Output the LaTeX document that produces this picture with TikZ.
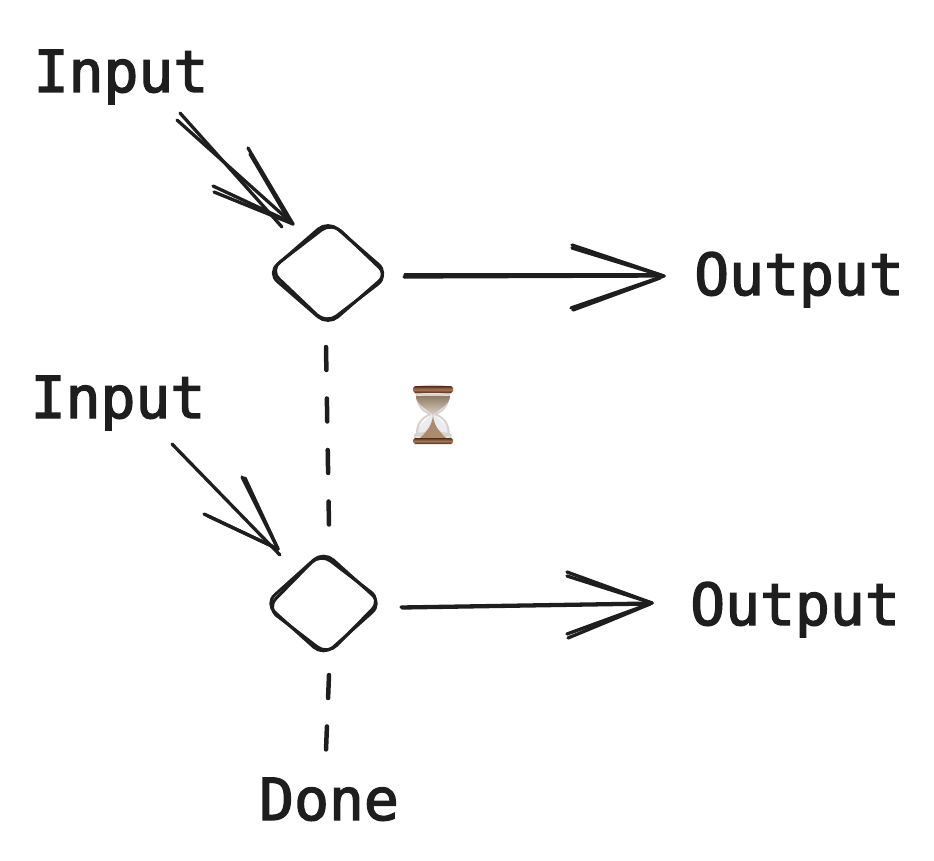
\documentclass[tikz,border=0pt]{standalone}
\usepackage{fontspec}
\setmonofont[FakeBold=2.4]{DejaVu Sans Mono}
\newfontfamily\emojifont{Noto Emoji}
\usetikzlibrary{shapes.geometric}
\definecolor{ink}{HTML}{1E1E1E}
\definecolor{wood}{HTML}{8A4A22}
\definecolor{sand}{HTML}{B39A80}
\definecolor{glass}{HTML}{ECECF0}
\definecolor{rim}{HTML}{D8D2CC}
\begin{document}
\begin{tikzpicture}[x=1pt,y=-1pt]
  \tikzstyle{label}=[text=ink,font=\ttfamily\fontsize{58}{58}\selectfont,anchor=base,inner sep=0pt]
  \tikzstyle{gate}=[draw=ink,line width=3pt,shape=diamond,rounded corners=13pt,inner sep=0pt]
  \tikzstyle{stroke}=[draw=ink,line width=3.3pt,line cap=round]
  \tikzstyle{gap}=[draw=ink,line width=4.5pt,line cap=round,dash pattern=on 23pt off 28.5pt]
  \useasboundingbox (0,0) rectangle (934,861);

  \node[label] (in1) at (121,92) {Input};
  \node[label] (in2) at (118,418) {Input};
  \node[label] (out1) at (799,295) {Output};
  \node[label] (out2) at (795,625) {Output};
  \node[label] (done) at (329,820) {Done};

  % hourglass
  \fill[glass] (416,394) -- (450,394) .. controls (451,405) and (440,410) .. (436,416) .. controls (442,422) and (451,428) .. (450,438) -- (416,438) .. controls (415,428) and (424,422) .. (430,416) .. controls (426,410) and (415,405) .. (416,394) -- cycle;
  \node[text=rim,font=\emojifont\fontsize{58}{58}\selectfont,inner sep=0pt] (wait) at (433,415) {⏳};
  \shade[top color=sand!80!black,bottom color=sand!45!white] (416,396) -- (450,396) .. controls (450,404) and (441,408) .. (433,415) .. controls (425,408) and (416,404) .. (416,396) -- cycle;
  \fill[sand!80!wood] (433,417) .. controls (435,428) and (441,433) .. (446,438) -- (420,438) .. controls (425,433) and (431,428) .. (433,417) -- cycle;
  \shade[top color=wood!60!black,bottom color=wood!60!black,middle color=wood!75!white] (413,388) -- (415,386) -- (451,386) -- (453,388) -- (453,391) -- (451,393) -- (415,393) -- (413,391) -- cycle;
  \shade[top color=wood!60!black,bottom color=wood!60!black,middle color=wood!75!white] (413,440) -- (415,438) -- (451,438) -- (453,440) -- (453,442) -- (451,444) -- (415,444) -- (413,442) -- cycle;

  \node[gate,minimum width=122pt,minimum height=106pt] (g1) at (328,273) {};
  \node[gate,minimum width=120pt,minimum height=103pt,rotate=-3] (g1b) at (329,273) {};
  \node[gate,minimum width=118pt,minimum height=106pt] (g2) at (323.5,603.5) {};
  \node[gate,minimum width=116pt,minimum height=103pt,rotate=4] (g2b) at (324,604) {};

  \coordinate (a1) at (180,113);
  \coordinate (a1b) at (177,120);
  \coordinate (a1t) at (282,227);
  \coordinate (a1u) at (293,224);
  \coordinate (a1v) at (290,222);
  \draw[stroke] (a1) -- (a1t);
  \draw[stroke] (a1b) -- (a1u);
  \draw[stroke] (248,148) -- (a1u);
  \draw[stroke] (250,154) -- (a1v);
  \draw[stroke] (213,186) -- (a1v);
  \draw[stroke] (214,192) -- (a1u);

  \coordinate (a2) at (172,444);
  \coordinate (a2t) at (280,555);
  \coordinate (a2u) at (278,549);
  \draw[stroke] (a2) -- (a2t);
  \draw[stroke] (242,477) -- (a2u);
  \draw[stroke] (245,478) -- (a2u);
  \draw[stroke] (204,514) -- (a2u);
  \draw[stroke] (208,516) -- (a2u);

  \coordinate (b1) at (404,277);
  \coordinate (b1t) at (664,276);
  \draw[stroke] (b1) -- (b1t);
  \draw[stroke] (405,275) -- (660,275);
  \draw[stroke] (572,245) -- (b1t);
  \draw[stroke] (572,248) -- (660,275);
  \draw[stroke] (571,308) -- (b1t);
  \draw[stroke] (573,310) -- (660,278);

  \coordinate (b2) at (401,607);
  \coordinate (b2t) at (652,603);
  \draw[stroke] (b2) -- (b2t);
  \draw[stroke] (402,608) -- (650,604);
  \draw[stroke] (567,572) -- (b2t);
  \draw[stroke] (567,576) -- (b2t);
  \draw[stroke] (567,634) -- (b2t);
  \draw[stroke] (568,638) -- (650,604);

  \coordinate (c1) at (326,347);
  \coordinate (c2) at (329,526);
  \coordinate (c3) at (329,675);
  \coordinate (c4) at (326,750);
  \draw[gap] (c1) -- (c2);
  \draw[gap] (c3) -- (c4);
\end{tikzpicture}
\end{document}
